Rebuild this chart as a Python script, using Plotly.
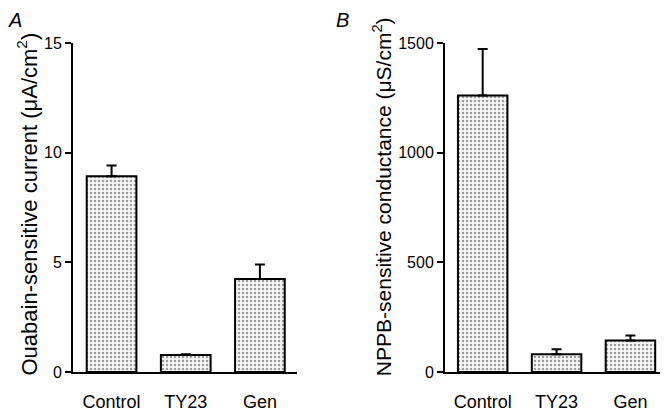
import plotly.graph_objects as go

categories = ["Control", "TY23", "Gen"]
current_values = [8.92, 0.77, 4.24]
current_errors = [0.49, 0.04, 0.66]
conductance_values = [1261, 81, 144]
conductance_errors = [212, 23, 22]
current_ticks = [0, 5, 10, 15]
conductance_ticks = [0, 500, 1000, 1500]

FONT = "Liberation Sans, Arial, Helvetica, sans-serif"
OFF = 8  # browser body margin
W, H = 670 - OFF, 412 - OFF
TOP, BOT = 43, 376  # reference pixel rows of y max / y=0
T, B = TOP - OFF, H - (BOT - OFF)

fig = go.Figure()

def bar(x, y, err, xa, ya):
    return go.Bar(
        x=x, y=y, xaxis=xa, yaxis=ya, width=0.67,
        marker=dict(
            color="white",
            line=dict(color="black", width=2),
            pattern=dict(shape=".", fgcolor="#444444", bgcolor="#f6f6f6", size=4, solidity=0.3),
        ),
        error_y=dict(type="data", array=err, arrayminus=[0] * len(err), symmetric=False,
                     color="black", thickness=2, width=5),
        showlegend=False,
    )

fig.add_trace(bar(categories, current_values, current_errors, "x", "y"))
fig.add_trace(bar(categories, conductance_values, conductance_errors, "x2", "y2"))

xcommon = dict(showline=True, linecolor="black", linewidth=2, ticks="", showgrid=False,
               zeroline=False, tickfont=dict(family=FONT, size=18, color="black"),
               ticklabelstandoff=12, type="category")
ycommon = dict(showline=True, linecolor="black", linewidth=2, ticks="outside", ticklen=6,
               tickwidth=2, tickcolor="black", showgrid=False, zeroline=False,
               tickfont=dict(family=FONT, size=16, color="black"))

def px(p):
    return (p - OFF) / W

fig.update_layout(
    width=W, height=H,
    margin=dict(l=0, r=0, t=T, b=B),
    paper_bgcolor="white", plot_bgcolor="white",
    xaxis=dict(domain=[px(73), px(297)], range=[-0.52, 2.5], anchor="y", **xcommon),
    yaxis=dict(domain=[0, 1], range=[0, 15], tickvals=current_ticks, anchor="x", **ycommon),
    xaxis2=dict(domain=[px(445), px(660)], range=[-0.51, 2.4], anchor="y2", **xcommon),
    yaxis2=dict(domain=[0, 1], range=[0, 1500], tickvals=conductance_ticks, anchor="x2", **ycommon),
)

def py(p):
    return (BOT - p) / (BOT - TOP)

fig.add_annotation(text="Ouabain-sensitive current (μA/cm<sup>2</sup>)", textangle=-90,
                   xref="paper", yref="paper", x=px(27), y=py(206.5), xanchor="center", yanchor="middle",
                   showarrow=False, font=dict(family=FONT, size=22, color="black"))
fig.add_annotation(text="NPPB-sensitive conductance (μS/cm<sup>2</sup>)", textangle=-90,
                   xref="paper", yref="paper", x=px(382), y=py(199), xanchor="center", yanchor="middle",
                   showarrow=False, font=dict(family=FONT, size=21, color="black"))
fig.add_annotation(text="<i>A</i>", xref="paper", yref="paper", x=px(6), y=py(20),
                   xanchor="left", yanchor="middle", showarrow=False,
                   font=dict(family=FONT, size=20, color="black"))
fig.add_annotation(text="<i>B</i>", xref="paper", yref="paper", x=px(334), y=py(20),
                   xanchor="left", yanchor="middle", showarrow=False,
                   font=dict(family=FONT, size=20, color="black"))

fig.write_html("out.html")
